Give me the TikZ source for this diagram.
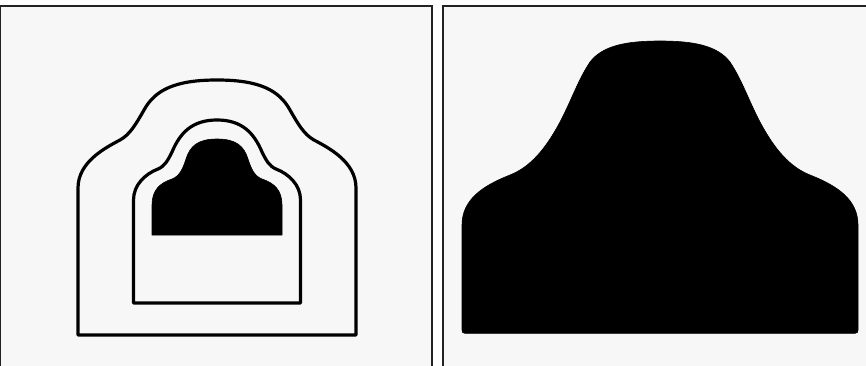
\documentclass[tikz,border=0pt]{standalone}
\definecolor{panelbg}{HTML}{F7F7F7}
\definecolor{panelrule}{HTML}{222222}
\tikzset{
  panel/.style={fill=panelbg, draw=panelrule, line width=1.3pt},
  outline/.style={draw=black, line width=3.2pt, line join=round},
  solidshape/.style={fill=black, draw=black, line width=0.6pt, line join=round}
}
\begin{document}
\begin{tikzpicture}[x=1pt,y=-1pt]
\useasboundingbox (0,0) rectangle (866,366);
\fill[white] (0,0) rectangle (866,366);
% panels
\path[panel] (0.7,6) rectangle (432,370);
\path[panel] (443,6) rectangle (870,370);
% left panel: outer outline
\path[outline] (78,335) -- (78,188)
  .. controls (78,162) and (105,148) .. (120,140)
  .. controls (130,134.5) and (136,124) .. (144,110)
  .. controls (155,90) and (175,80) .. (217,80)
  .. controls (259,80) and (279,90) .. (290,110)
  .. controls (298,124) and (304,134.5) .. (314,140)
  .. controls (329,148) and (356,162) .. (356,188)
  -- (356,335) -- cycle;
% left panel: middle outline
\path[outline] (133.5,303) -- (133.5,200)
  .. controls (133.5,185) and (145,174) .. (158,169)
  .. controls (165,166) and (168,160) .. (172,152)
  .. controls (180,133) and (192,120) .. (217,120)
  .. controls (242,120) and (254,133) .. (262,152)
  .. controls (266,160) and (269,166) .. (276,169)
  .. controls (289,174) and (300.5,185) .. (300.5,200)
  -- (300.5,303) -- cycle;
% left panel: inner solid shape
\path[solidshape] (152,235) -- (152,205)
  .. controls (152,190) and (160,183) .. (172,179)
  .. controls (180,176) and (183,168) .. (186,159)
  .. controls (190,146) and (198,139) .. (217,139)
  .. controls (236,139) and (244,146) .. (248,159)
  .. controls (251,168) and (254,176) .. (262,179)
  .. controls (274,183) and (282,190) .. (282,205)
  -- (282,235) -- cycle;
% right panel: large solid shape
\path[solidshape] (465,333.3)
  .. controls (462.5,333.3) and (462,332) .. (462,330)
  -- (462,225)
  .. controls (462,200) and (482,186) .. (510,175)
  .. controls (530,167) and (545,150) .. (560,122)
  .. controls (572,99) and (578,80) .. (590,62)
  .. controls (603,45) and (628,41) .. (660,41)
  .. controls (692,41) and (717,45) .. (730,62)
  .. controls (742,80) and (748,99) .. (760,122)
  .. controls (775,150) and (790,167) .. (810,175)
  .. controls (838,186) and (858,200) .. (858,225)
  -- (858,330)
  .. controls (858,332) and (857.5,333.3) .. (855,333.3)
  -- cycle;
\end{tikzpicture}
\end{document}
